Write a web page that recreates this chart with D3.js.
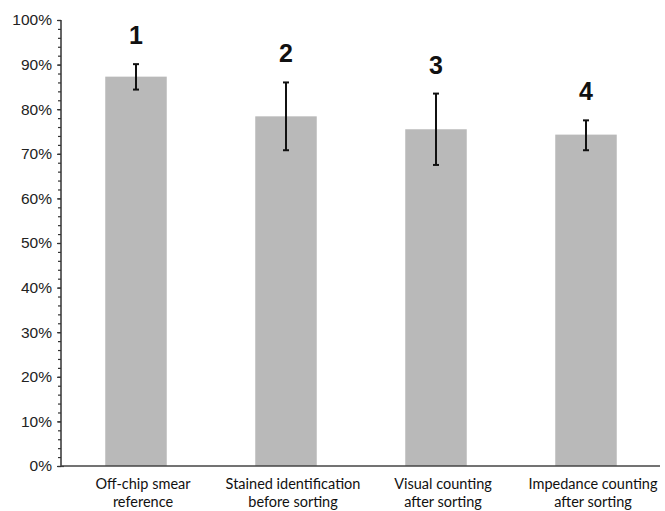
<!DOCTYPE html>
<html>
<head>
<meta charset="utf-8">
<script src="https://cdn.jsdelivr.net/npm/d3@7"></script>
<style>
  body { margin: 0; background: #fff; }
  #chart { width: 665px; height: 511px; }
</style>
</head>
<body>
<div id="chart"></div>
<script>
// values
var categories = [
    ['Off-chip smear', 'reference'],
    ['Stained identification', 'before sorting'],
    ['Visual counting', 'after sorting'],
    ['Impedance counting', 'after sorting']
];
var barNumbers = ['1', '2', '3', '4'];
var means = [0.873, 0.784, 0.755, 0.743];
var errHigh = [0.901, 0.860, 0.835, 0.775];
var errLow = [0.844, 0.708, 0.675, 0.708];
var majorTicks = [0, 0.1, 0.2, 0.3, 0.4, 0.5, 0.6, 0.7, 0.8, 0.9, 1.0];
var minorTicks = d3.range(0, 51).map(function (i) { return i / 50; });

var pad = { left: 61, top: 20, right: 4, bottom: 45 };
var width = 665, height = 511;

var svg = d3.select('#chart')
    .append('svg')
    .attr('width', width)
    .attr('height', height);

var xScale = d3.scaleBand()
    .domain(d3.range(categories.length))
    .range([pad.left, width - pad.right])
    .paddingInner(0.59)
    .paddingOuter(0.295);

var yScale = d3.scaleLinear()
    .domain([0, 1])
    .range([height - pad.bottom, pad.top]);

// bars
svg.append('g')
    .selectAll('rect')
    .data(means)
    .enter()
    .append('rect')
    .attr('x', function (d, i) { return xScale(i); })
    .attr('y', function (d) { return yScale(d); })
    .attr('width', xScale.bandwidth())
    .attr('height', function (d) { return yScale(0) - yScale(d); })
    .style('fill', '#b9b9b9');

// error bars
var err = svg.append('g')
    .selectAll('g')
    .data(means)
    .enter()
    .append('g')
    .attr('transform', function (d, i) {
        return 'translate(' + (xScale(i) + xScale.bandwidth() / 2) + ',0)';
    })
    .style('stroke', '#111')
    .style('stroke-width', 2);

err.append('line')
    .attr('y1', function (d, i) { return yScale(errLow[i]); })
    .attr('y2', function (d, i) { return yScale(errHigh[i]); });
err.append('line')
    .attr('x1', -3).attr('x2', 3)
    .attr('y1', function (d, i) { return yScale(errHigh[i]); })
    .attr('y2', function (d, i) { return yScale(errHigh[i]); });
err.append('line')
    .attr('x1', -3).attr('x2', 3)
    .attr('y1', function (d, i) { return yScale(errLow[i]); })
    .attr('y2', function (d, i) { return yScale(errLow[i]); });

// numbers above the bars
svg.append('g')
    .selectAll('text')
    .data(barNumbers)
    .enter()
    .append('text')
    .attr('x', function (d, i) { return xScale(i) + xScale.bandwidth() / 2; })
    .attr('y', function (d, i) { return yScale(errHigh[i]) - 20; })
    .style('text-anchor', 'middle')
    .style('font-family', '"Liberation Sans", Arial, sans-serif')
    .style('font-weight', 'bold')
    .style('font-size', '25px')
    .style('fill', '#111')
    .text(function (d) { return d; });

// y axis: minor ticks, then major ticks with labels
var yAxis = svg.append('g')
    .attr('transform', 'translate(' + pad.left + ',0)');

yAxis.call(d3.axisLeft(yScale).tickValues(minorTicks).tickSize(3).tickFormat(''));
yAxis.append('g')
    .call(d3.axisLeft(yScale)
        .tickValues(majorTicks)
        .tickSize(4)
        .tickPadding(5)
        .tickFormat(d3.format('.0%')));
yAxis.selectAll('.domain').remove();
yAxis.append('line')
    .attr('y1', yScale(0)).attr('y2', yScale(1))
    .style('stroke', '#333').style('stroke-width', 1.5);
yAxis.selectAll('.tick line').style('stroke', '#333').style('stroke-width', 1.2);
yAxis.selectAll('.tick text')
    .style('font-family', '"Liberation Sans", Arial, sans-serif')
    .style('font-size', '15.5px')
    .style('fill', '#222');
// major ticks cross the axis
yAxis.select('g').selectAll('.tick line').attr('x1', 3);

// x axis
var xAxis = svg.append('g')
    .attr('transform', 'translate(0,' + yScale(0) + ')');
xAxis.append('line')
    .attr('x1', pad.left).attr('x2', width - 5)
    .style('stroke', '#444').style('stroke-width', 1.5);

var catText = xAxis.selectAll('.cat')
    .data(categories)
    .enter()
    .append('text')
    .attr('class', 'cat')
    .attr('x', function (d, i) { return xScale(i) + xScale.bandwidth() / 2 + 7; })
    .style('text-anchor', 'middle')
    .style('font-family', 'Lato, "Open Sans", sans-serif')
    .style('font-size', '14.5px')
    .style('fill', '#111');
catText.selectAll('tspan')
    .data(function (d) { return d; })
    .enter()
    .append('tspan')
    .attr('x', function () { return d3.select(this.parentNode).attr('x'); })
    .attr('y', function (d, j) { return 23 + j * 18; })
    .text(function (d) { return d; });
</script>
</body>
</html>
